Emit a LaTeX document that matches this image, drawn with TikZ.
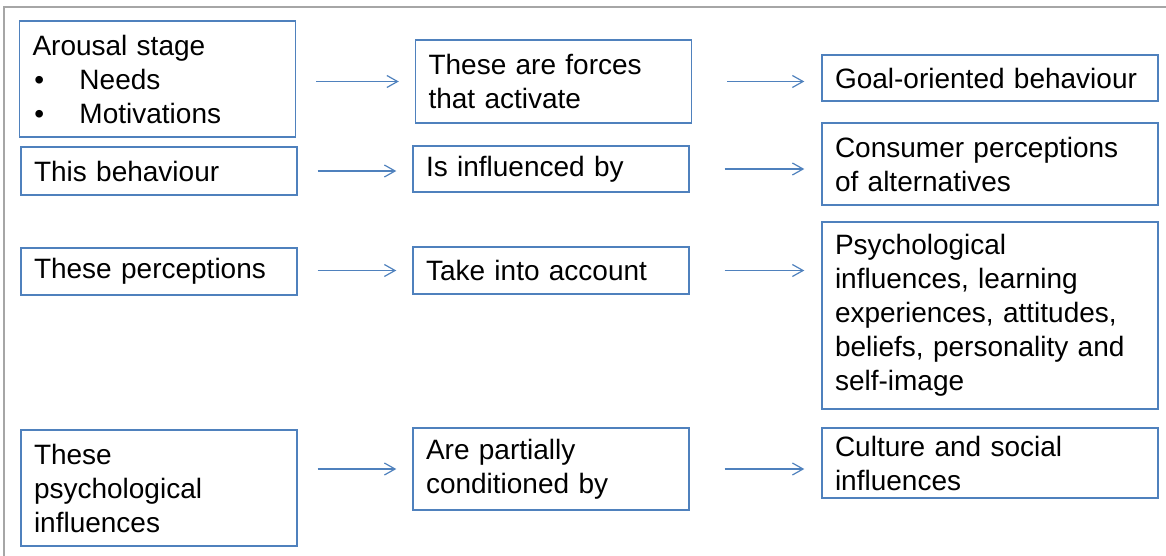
\documentclass[tikz,border=0pt]{standalone}
\usepackage{fontspec}
\setmainfont{Liberation Sans}
\usetikzlibrary{arrows.meta}
\definecolor{boxblue}{RGB}{79,129,189}
\definecolor{framegray}{RGB}{166,166,166}
\begin{document}
\begin{tikzpicture}[x=0.75pt,y=-0.75pt,
  bx/.style={draw=boxblue, line width=1.1pt, inner xsep=9.75pt, inner ysep=0pt,
    align=left, font=\fontsize{21}{25.5}\selectfont, text=black},
  colA/.style={bx, minimum width=207pt, text width=187.5pt},
  colC/.style={bx, minimum width=252pt, text width=232.5pt},
  arr/.style={draw=boxblue, line width=0.9pt, -{Straight Barb[length=8pt,width=9pt]}},
  abarr/.style={arr, shorten <=15pt, shorten >=12pt},
  bcarr/.style={arr, shorten <=26.25pt, shorten >=12.75pt},
]
\useasboundingbox (0,0) rectangle (1166,556);
\draw[framegray, line width=1.5pt] (4,556) -- (4,7) -- (1166,7);

% row 1
\node[colA, minimum height=87pt] (A1) at (157.5,79)
  {Arousal stage\\
   \makebox[35.25pt][l]{\hspace{1.5pt}•}Needs\\
   \makebox[35.25pt][l]{\hspace{1.5pt}•}Motivations};
\node[colA, minimum height=62.25pt] (B1) at (553.5,81.5) {These are forces\\that activate};
\node[colC, minimum height=34.5pt] (C1) at (990,78) {Goal-oriented behaviour};

% row 2
\node[colA, minimum height=36pt] (A2) at (159,171) {This behaviour};
\node[colA, minimum height=34.5pt] (B2) at (551,169) {Is influenced by};
\node[colC, minimum height=61.5pt] (C2) at (990,164) {Consumer perceptions\\of alternatives};

% row 3
\node[colA, minimum height=35.25pt] (A3) at (159,271.5) {These perceptions};
\node[colA, minimum height=35.25pt] (B3) at (551,270.5) {Take into account};
\node[colC, minimum height=140.25pt] (C3) at (990,315.5)
  {Psychological\\influences, learning\\experiences, attitudes,\\beliefs, personality and\\self-image};

% row 4
\node[colA, minimum height=87pt] (A4) at (159,488) {These\\psychological\\influences};
\node[colA, minimum height=61.5pt] (B4) at (551,469) {Are partially\\conditioned by};
\node[colC, minimum height=52.5pt] (C4) at (990,463) {Culture and social\\influences};

% connectors
\draw[abarr] (A1.east |- B1.west) -- (B1.west);
\draw[bcarr] (B1.east) -- (B1.east -| C1.west);
\draw[abarr] (A2.east) -- (A2.east -| B2.west);
\draw[bcarr] (B2.east) -- (B2.east -| C2.west);
\draw[abarr] (A3.east |- B3.west) -- (B3.west);
\draw[bcarr] (B3.east) -- (B3.east -| C3.west);
\draw[abarr] (A4.east |- B4.west) -- (B4.west);
\draw[bcarr] (B4.east) -- (B4.east -| C4.west);
\end{tikzpicture}
\end{document}
